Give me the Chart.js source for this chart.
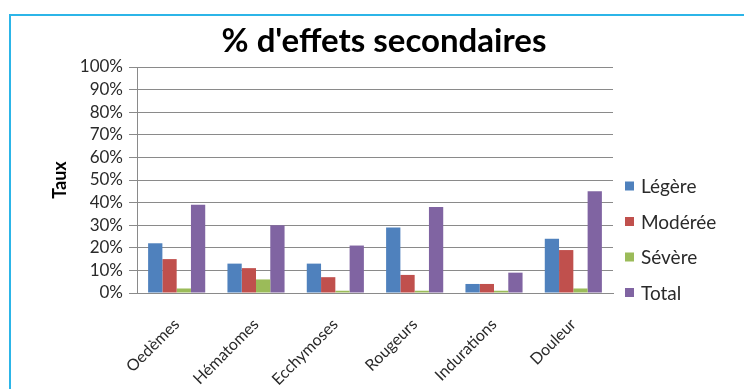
<!DOCTYPE html>
<html>
<head>
<meta charset="utf-8">
<script src="https://cdn.jsdelivr.net/npm/chart.js@4/dist/chart.umd.min.js"></script>
<style>
  html, body { margin: 0; padding: 0; background: #fff; }
  body { width: 744px; height: 389px; overflow: hidden; position: relative; }
  #frame { position: absolute; left: 9px; top: 14px; width: 760px; height: 400px;
           border-left: 2px solid #2cb5e8; border-top: 2px solid #2cb5e8; box-sizing: border-box; }
  #wrap { position: absolute; left: 0; top: 0; width: 744px; height: 389px; }
</style>
</head>
<body>
<div id="frame"></div>
<div id="wrap"><canvas id="c" width="744" height="389"></canvas></div>
<script>
// Effets secondaires par catégorie, en % des patients
const categories = ['Oedèmes', 'Hématomes', 'Ecchymoses', 'Rougeurs', 'Indurations', 'Douleur'];
const legere  = [22, 13, 13, 29, 4, 24];
const moderee = [15, 11, 7, 8, 4, 19];
const severe  = [2, 6, 1, 1, 1, 2];
const total   = [39, 30, 21, 38, 9, 45];
const seriesNames = ['Légère', 'Modérée', 'Sévère', 'Total'];
const seriesColors = ['#4f81bd', '#c0504d', '#9bbb59', '#8064a2'];
const yTicks = [0, 10, 20, 30, 40, 50, 60, 70, 80, 90, 100];

const FONT = 'Lato, "Open Sans", sans-serif';

// Titre et légende dessinés à côté de la zone du graphique
const decor = {
  id: 'decor',
  afterDraw(chart) {
    const ctx = chart.ctx;
    ctx.save();
    ctx.fillStyle = '#000';
    ctx.font = 'bold 33px ' + FONT;
    ctx.textAlign = 'center';
    ctx.textBaseline = 'middle';
    ctx.fillText('% d\'effets secondaires', 384, 41);

    ctx.font = '19px ' + FONT;
    ctx.textAlign = 'left';
    const x0 = 625, y0 = 186, step = 35.5;
    chart.data.datasets.forEach((ds, i) => {
      const y = y0 + i * step;
      ctx.fillStyle = ds.backgroundColor;
      ctx.fillRect(x0, y - 4.5, 9, 9);
      ctx.fillStyle = '#2a2a2a';
      ctx.fillText(ds.label, x0 + 16, y + 1);
    });
    ctx.restore();
  }
};

const values = [legere, moderee, severe, total];

new Chart(document.getElementById('c'), {
  type: 'bar',
  data: {
    labels: categories,
    datasets: values.map((v, i) => ({
      label: seriesNames[i],
      data: v,
      backgroundColor: seriesColors[i],
      borderWidth: 0,
      categoryPercentage: 0.72,
      barPercentage: 1.0
    }))
  },
  options: {
    responsive: false,
    animation: false,
    layout: { padding: { left: 20, top: 67, right: 131, bottom: 0 } },
    plugins: {
      legend: { display: false },
      title: { display: false },
      tooltip: { enabled: false }
    },
    scales: {
      x: {
        grid: { display: false },
        border: { display: true, color: '#8a8a8a', width: 1 },
        ticks: {
          font: { family: FONT, size: 16 },
          color: '#2a2a2a',
          maxRotation: 45,
          minRotation: 45,
          autoSkip: false,
          padding: 14
        },
        afterFit(scale) { scale.height = 96; }
      },
      y: {
        min: 0,
        max: 100,
        afterBuildTicks(scale) { scale.ticks = yTicks.map(v => ({ value: v })); },
        grid: { color: '#8a8a8a', lineWidth: 1, drawTicks: true, tickLength: 8 },
        border: { display: true, color: '#8a8a8a', width: 1 },
        ticks: {
          font: { family: FONT, size: 17 },
          color: '#2a2a2a',
          padding: 6,
          autoSkip: false,
          callback: v => v + '%'
        },
        title: {
          display: true,
          text: 'Taux',
          font: { family: FONT, size: 18, weight: 'bold' },
          color: '#000',
          padding: { top: 29, bottom: 0 }
        },
        afterFit(scale) { scale.width = 117; }
      }
    }
  },
  plugins: [decor]
});
</script>
</body>
</html>
